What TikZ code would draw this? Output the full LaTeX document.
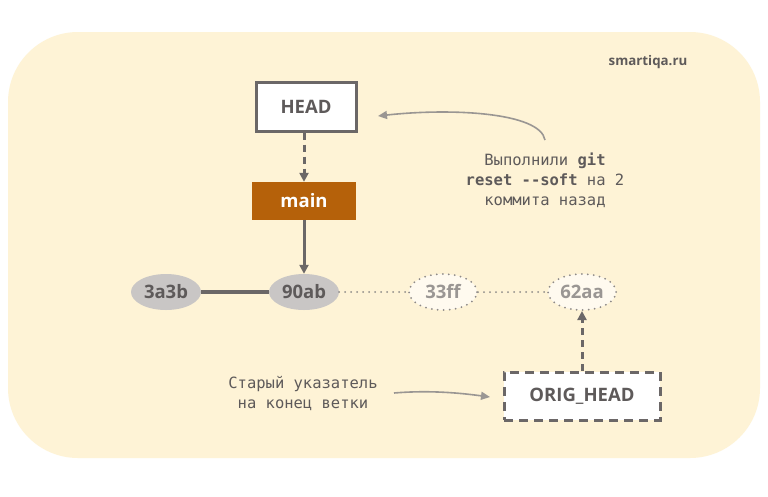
\documentclass[tikz,border=0pt]{standalone}
\usepackage{fontspec}
\setmainfont{Open Sans}
\newfontfamily\monof{DejaVu Sans Mono}
\usetikzlibrary{arrows.meta,shapes.geometric}
\definecolor{bgy}{HTML}{FEF3D6}
\definecolor{bord}{HTML}{6B6767}
\definecolor{txtg}{HTML}{5E5A5A}
\definecolor{brn}{HTML}{B5610A}
\definecolor{cgray}{HTML}{C9C6C5}
\definecolor{dotg}{HTML}{8E8A88}
\definecolor{lightt}{HTML}{9A9693}
\begin{document}
\begin{tikzpicture}[x=1pt,y=-1pt,
  refbox/.style={draw=bord,line width=3pt,fill=white,minimum width=100pt,minimum height=49pt,font=\fontsize{18.5}{22}\selectfont\bfseries,text=txtg},
  commit/.style={ellipse,fill=cgray,minimum width=70pt,minimum height=36pt,inner sep=0pt,font=\fontsize{18.5}{22}\selectfont\bfseries,text=txtg},
  dotline/.style={draw=dotg,line width=2pt,line cap=round,dash pattern=on 0pt off 6pt},
  gcommit/.style={ellipse,dotline,fill=white!60!bgy,minimum width=68pt,minimum height=36pt,inner sep=0pt,font=\fontsize{18.5}{22}\selectfont\bfseries,text=lightt},
  note/.style={font=\monof\fontsize{15.5}{20}\selectfont,text=txtg,align=center},
  arr/.style={-{Triangle[length=9pt,width=9pt]},draw=bord,line width=3pt},
  carr/.style={-{Triangle[length=9pt,width=8pt]},draw=lightt,line width=1.6pt}
]
\fill[white] (0,0) rectangle (768,496);
\fill[bgy,rounded corners=70pt] (8,32) rectangle (760,458);
\node[font=\fontsize{13.3}{16}\selectfont\bfseries,text=txtg] (site) at (648,62) {smartiqa.ru};
\node[refbox] (head) at (306,106.5) {HEAD};
\node[fill=brn,minimum width=104pt,minimum height=38pt,font=\fontsize{18.5}{22}\selectfont\bfseries,text=white] (main) at (304,201) {main};
\node[commit] (c1) at (166,292) {3a3b};
\node[commit] (c2) at (304,292) {90ab};
\node[gcommit] (c3) at (443,292) {33ff};
\node[gcommit] (c4) at (582,292) {62aa};
\node[refbox,dashed,dash pattern=on 9pt off 6pt,minimum width=156pt,minimum height=48pt] (orig) at (582,396) {ORIG\_HEAD};
\draw[arr,dash pattern=on 7pt off 5pt] (head.south -| main.north) -- (main.north);
\draw[arr] (main.south) -- (c2.north);
\draw[draw=bord,line width=4pt] (c1) -- (c2);
\draw[dotline] (c2) -- (c3);
\draw[dotline] (c3) -- (c4);
\draw[arr,dash pattern=on 7pt off 5pt] (orig.north) -- (c4.south);
\node[note] (n1) at (545,180) {Выполнили \textbf{git}\\\textbf{reset --soft} на 2\\коммита назад};
\coordinate (n1a) at (545,140);
\coordinate (n1b) at (378,116);
\draw[carr] (n1a) .. controls (540,112) and (450,108) .. (n1b);
\node[note] (n2) at (303,393) {Старый указатель\\на конец ветки};
\coordinate (n2a) at (394,393);
\coordinate (n2b) at (490,397);
\draw[carr] (n2a) .. controls (430,390) and (460,393) .. (n2b);
\end{tikzpicture}
\end{document}
